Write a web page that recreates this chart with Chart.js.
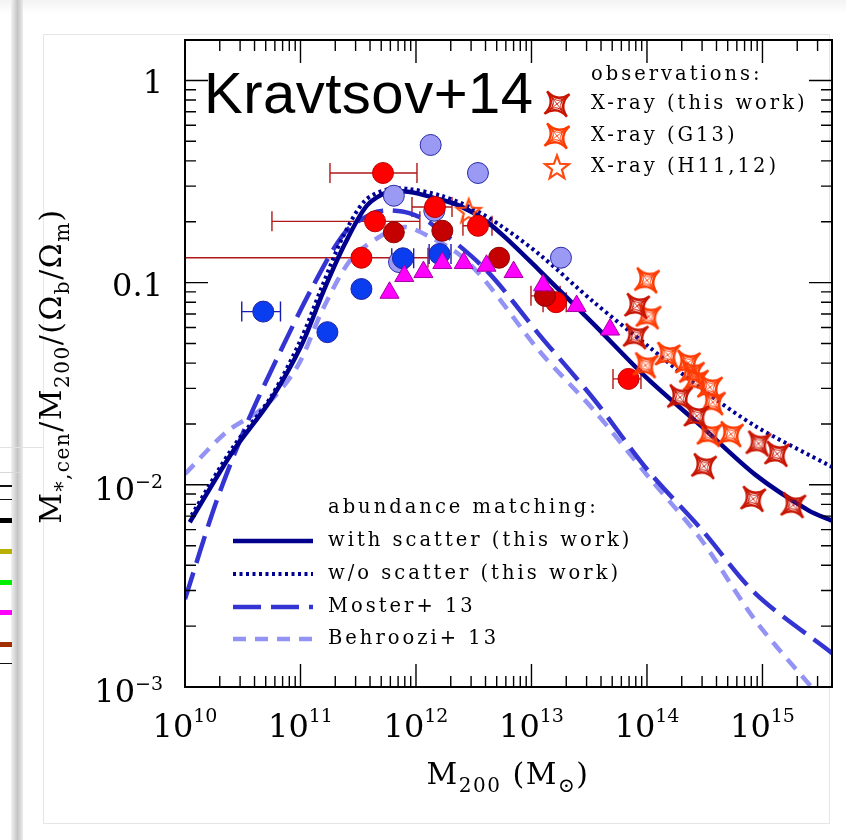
<!DOCTYPE html>
<html>
<head>
<meta charset="utf-8">
<script src="https://cdn.jsdelivr.net/npm/chart.js@4.4.1/dist/chart.umd.min.js"></script>
<style>
  body { margin: 0; background: #fff; }
  #wrap { position: relative; width: 846px; height: 840px; overflow: hidden; background: #fff; }
  #wrap canvas { position: absolute; left: 0; top: 0; }
  .deco { position: absolute; }
</style>
</head>
<body>
<div id="wrap">
  <!-- bits of the slide around the figure -->
  <div class="deco" style="left:0;top:0;width:846px;height:14px;background:linear-gradient(#f3f3f3,#fff)"></div>
  <div class="deco" style="left:11px;top:0;width:12px;height:840px;background:linear-gradient(to right,#f2f2f2,#c4c4c4 55%,#ececec)"></div>
  <div class="deco" style="left:43px;top:34px;width:785px;height:788px;border:1px solid #e6e6e6;"></div>
  <div class="deco" style="left:0;top:447px;width:44px;height:1px;background:#e2e2e2"></div>
  <div class="deco" style="left:0;top:472px;width:20px;height:1px;background:#d8d8d8"></div>
  <div class="deco" style="left:0;top:485px;width:12px;height:2px;background:#111"></div>
  <div class="deco" style="left:0;top:499px;width:12px;height:1px;background:#111"></div>
  <div class="deco" style="left:0;top:518px;width:12px;height:5px;background:#000"></div>
  <div class="deco" style="left:0;top:549px;width:12px;height:5px;background:#b8b000"></div>
  <div class="deco" style="left:0;top:580px;width:12px;height:5px;background:#00ee00"></div>
  <div class="deco" style="left:0;top:610px;width:12px;height:5px;background:#ff00ff"></div>
  <div class="deco" style="left:0;top:642px;width:12px;height:5px;background:#a03000"></div>
  <div class="deco" style="left:0;top:663px;width:12px;height:1px;background:#111"></div>
  <canvas id="chart" width="846" height="840"></canvas>
</div>
<script>
// axis ticks
const massTicks = [1e10, 1e11, 1e12, 1e13, 1e14, 1e15];
const massTickPowers = ["10", "11", "12", "13", "14", "15"];
const fracTicks = [1, 0.1, 0.01, 0.001];
const fracTickBase = ["1", "0.1", "10", "10"];
const fracTickPowers = ["", "", "−2", "−3"];

// abundance matching curves (M200 in Msun, stellar fraction)
const scatterM = [1.1e10, 2.57e10, 5.5e10, 1.02e11, 1.58e11, 2.43e11, 3.77e11, 5.75e11, 8.9e11, 1.38e12, 2.34e12, 4.07e12, 6.76e12, 1.17e13, 3.47e13, 1e14, 2.95e14, 8.7e14, 2.5e15, 4e15];
const scatterF = [0.00653, 0.0145, 0.0262, 0.049, 0.0906, 0.156, 0.241, 0.281, 0.281, 0.264, 0.241, 0.201, 0.156, 0.115, 0.0622, 0.0337, 0.0195, 0.0112, 0.00748, 0.00664];

const noScatterM = [1.14e10, 2.57e10, 5.5e10, 1e11, 1.55e11, 2.34e11, 3.63e11, 5.75e11, 8.9e11, 1.62e12, 2.95e12, 5.37e12, 1.17e13, 3.47e13, 1e14, 2.95e14, 8.7e14, 4e15];
const noScatterF = [0.00708, 0.0152, 0.027, 0.0519, 0.097, 0.1694, 0.255, 0.29, 0.29, 0.27, 0.236, 0.192, 0.138, 0.08, 0.049, 0.0299, 0.0195, 0.01226];

const mosterM = [1e10, 1.86e10, 3.5e10, 6.7e10, 1.28e11, 2.43e11, 4.17e11, 5.75e11, 8.9e11, 1.38e12, 4.07e12, 1.17e13, 3.47e13, 1e14, 2.95e14, 8.7e14, 4e15];
const mosterF = [0.00272, 0.0082, 0.0206, 0.0457, 0.0959, 0.1773, 0.22, 0.2277, 0.22, 0.194, 0.115, 0.0552, 0.0265, 0.01194, 0.00604, 0.0029, 0.00147];

const behrooziM = [1e10, 2.29e10, 4.83e10, 9.3e10, 1.58e11, 2.72e11, 4.68e11, 7.94e11, 1.36e12, 2.34e12, 3.98e12, 1.17e13, 3.47e13, 1e14, 2.95e14, 8.7e14, 2.82e15];
const behrooziF = [0.01132, 0.01828, 0.0242, 0.0381, 0.075, 0.13, 0.1667, 0.1885, 0.1667, 0.1386, 0.102, 0.0459, 0.0234, 0.01118, 0.00535, 0.00213, 0.00096];

// observational points
const redM = [5.18e11, 4.42e11, 3.37e11, 1.46e12, 3.44e12, 1.63e13, 6.92e13];
const redF = [0.3485, 0.201, 0.1328, 0.2366, 0.191, 0.08, 0.0334];
const redLo = [1.8e11, 5.66e10, 1e9, 9.23e11, 2.55e12, 1.26e13, 5.08e13];
const redHi = [1.02e12, 1.08e12, 1.27e12, 2.05e12, 4.55e12, 2.0e13, 8.87e13];

const darkRedM = [6.43e11, 1.69e12, 5.24e12, 1.31e13];
const darkRedF = [0.1773, 0.1806, 0.1328, 0.086];
const darkRedLo = [null, null, null, 9.9e12];
const darkRedHi = [null, null, null, 1.77e13];

const blueM = [4.76e10, 1.71e11, 3.37e11, 7.71e11, 1.6e12];
const blueF = [0.0719, 0.0569, 0.093, 0.132, 0.1386];
const blueLo = [3.1e10, null, null, 6.17e11, 1.3e12];
const blueHi = [6.71e10, null, null, 9.55e11, 2.01e12];

const lightBlueM = [1.34e12, 3.44e12, 6.43e11, 1.44e12, 7.13e11, 1.8e13];
const lightBlueF = [0.4795, 0.3485, 0.269, 0.2267, 0.1264, 0.1328];

const magentaM = [5.9e11, 7.92e11, 1.16e12, 1.69e12, 2.59e12, 4.08e12, 7.0e12, 1.26e13, 2.46e13, 4.79e13];
const magentaF = [0.0891, 0.1078, 0.1128, 0.125, 0.125, 0.1212, 0.1128, 0.097, 0.0766, 0.0586];

const xrayM = [8.22e13, 8.0e13, 1.93e14, 2.69e14, 3.12e14, 9.23e14, 1.34e15, 8.32e14, 1.85e15];
const xrayF = [0.0766, 0.0543, 0.0271, 0.0219, 0.01236, 0.016, 0.01423, 0.00852, 0.00793];

const g13M = [1.0e14, 1.03e14, 1.51e14, 9.7e13, 2.26e14, 2.45e14, 2.65e14, 3.51e14, 3.72e14, 3.48e14, 5.33e14];
const g13F = [0.1026, 0.0681, 0.0439, 0.039, 0.0401, 0.036, 0.0329, 0.0304, 0.0256, 0.0178, 0.0178];

const h11M = [2.86e12];
const h11F = [0.2266];

const serif = '"DejaVu Serif", serif';
const pts = (xs, ys) => xs.map((x, i) => ({ x: x, y: ys[i] }));

// 4-point star with inner outline (X-ray symbols)
const makeCrossStar = color => {
  const s = 36, c = document.createElement("canvas");
  c.width = s; c.height = s;
  const g = c.getContext("2d");
  g.translate(s / 2, s / 2);
  g.rotate(Math.PI / 4 + 0.12);
  g.strokeStyle = color;
  g.lineJoin = "miter";
  const shape = R => {
    const k = 0.06 * R;
    g.beginPath();
    g.moveTo(R, 0);
    g.quadraticCurveTo(k, k, 0, R);
    g.quadraticCurveTo(-k, k, -R, 0);
    g.quadraticCurveTo(-k, -k, 0, -R);
    g.quadraticCurveTo(k, -k, R, 0);
    g.closePath();
    g.stroke();
  };
  g.lineWidth = 2.4; shape(16);
  g.lineWidth = 1; shape(9.5);
  g.lineWidth = 0.8;
  g.beginPath(); g.moveTo(-9, 0); g.lineTo(9, 0); g.moveTo(0, -9); g.lineTo(0, 9); g.stroke();
  return c;
};

const makeOpenStar = color => {
  const s = 32, c = document.createElement("canvas");
  c.width = s; c.height = s;
  const g = c.getContext("2d");
  g.translate(s / 2, s / 2 + 1);
  g.strokeStyle = color;
  g.lineWidth = 2.2;
  g.beginPath();
  for (let i = 0; i < 10; i++) {
    const r = i % 2 ? 5.2 : 12.5;
    const a = -Math.PI / 2 + i * Math.PI / 5;
    i ? g.lineTo(r * Math.cos(a), r * Math.sin(a)) : g.moveTo(r * Math.cos(a), r * Math.sin(a));
  }
  g.closePath();
  g.stroke();
  return c;
};

const xrayStar = makeCrossStar("#c81400");
const g13Star = makeCrossStar("#ff3a00");
const h11Star = makeOpenStar("#ff4a10");

// rich text: parts = [text, size, dy]
const drawParts = (ctx, parts, x, y, align) => {
  let w = 0;
  parts.forEach(p => {
    ctx.font = `${p[1]}px ${serif}`;
    w += ctx.measureText(p[0]).width;
  });
  let cx = align === "center" ? x - w / 2 : align === "right" ? x - w : x;
  parts.forEach(p => {
    ctx.font = `${p[1]}px ${serif}`;
    ctx.fillText(p[0], cx, y + p[2]);
    cx += ctx.measureText(p[0]).width;
  });
};

const errorBars = {
  id: "errorBars",
  beforeDatasetsDraw(chart) {
    const { ctx, scales: { x, y } } = chart;
    const sets = [
      [redM, redF, redLo, redHi, "#b01818"],
      [darkRedM, darkRedF, darkRedLo, darkRedHi, "#b01818"],
      [blueM, blueF, blueLo, blueHi, "#1a1ab4"],
    ];
    ctx.save();
    ctx.beginPath();
    ctx.rect(chart.chartArea.left, chart.chartArea.top, chart.chartArea.width, chart.chartArea.height);
    ctx.clip();
    ctx.lineWidth = 1.4;
    sets.forEach(([ms, fs, lo, hi, col]) => {
      ctx.strokeStyle = col;
      ms.forEach((m, i) => {
        if (lo[i] == null) return;
        const py = y.getPixelForValue(fs[i]);
        const x0 = x.getPixelForValue(lo[i]);
        const x1 = x.getPixelForValue(hi[i]);
        ctx.beginPath();
        ctx.moveTo(x0, py); ctx.lineTo(x1, py);
        ctx.moveTo(x0, py - 10); ctx.lineTo(x0, py + 10);
        ctx.moveTo(x1, py - 10); ctx.lineTo(x1, py + 10);
        ctx.stroke();
      });
    });
    ctx.restore();
  },
};

const frameAndText = {
  id: "frameAndText",
  afterDraw(chart) {
    const { ctx, chartArea: a, scales: { x, y } } = chart;
    ctx.save();
    ctx.strokeStyle = "#000";
    ctx.fillStyle = "#000";

    // inward ticks on all four sides
    ctx.lineWidth = 1.4;
    ctx.beginPath();
    for (let d = 1e10; d <= 1e15; d *= 10) {
      for (let k = 1; k <= 9; k++) {
        const v = d * k;
        if (v > x.max) break;
        const px = x.getPixelForValue(v);
        const len = k === 1 ? 23 : 11;
        ctx.moveTo(px, a.bottom); ctx.lineTo(px, a.bottom - len);
        ctx.moveTo(px, a.top); ctx.lineTo(px, a.top + len);
      }
    }
    for (let d = 1e-3; d <= 1; d *= 10) {
      for (let k = 1; k <= 9; k++) {
        const v = d * k;
        if (v > y.max) break;
        const py = y.getPixelForValue(v);
        const len = k === 1 ? 23 : 11;
        ctx.moveTo(a.left, py); ctx.lineTo(a.left + len, py);
        ctx.moveTo(a.right, py); ctx.lineTo(a.right - len, py);
      }
    }
    ctx.stroke();
    ctx.lineWidth = 2;
    ctx.strokeRect(a.left, a.top, a.width, a.height);

    // tick labels
    ctx.textBaseline = "alphabetic";
    massTicks.forEach((v, i) => {
      drawParts(ctx, [["10", 32, 0], [massTickPowers[i], 19, -15]], x.getPixelForValue(v), a.bottom + 50, "center");
    });
    fracTicks.forEach((v, i) => {
      const py = y.getPixelForValue(v);
      if (fracTickPowers[i]) {
        drawParts(ctx, [[fracTickBase[i], 32, 0], [fracTickPowers[i], 19, -12]], 163, py + 15, "right");
      } else {
        drawParts(ctx, [[fracTickBase[i], 32, 0]], 163, py + 13, "right");
      }
    });

    // axis titles
    ctx.letterSpacing = "1.5px";
    drawParts(ctx, [["M", 30, 0], ["200", 20, 8], [" (M", 30, 0], ["⊙", 20, 8], [")", 30, 0]], 508, 784, "center");
    ctx.save();
    ctx.translate(61, 366);
    ctx.rotate(-Math.PI / 2);
    drawParts(ctx, [["M", 30, 0], ["*,cen", 20, 8], ["/M", 30, 0], ["200", 20, 8], ["/(Ω", 30, 0], ["b", 20, 8], ["/Ω", 30, 0], ["m", 20, 8], [")", 30, 0]], 0, 0, "center");
    ctx.restore();

    // big label
    ctx.letterSpacing = "0.5px";
    ctx.font = '58px "Liberation Sans", sans-serif';
    ctx.fillText("Kravtsov+14", 204, 113);

    // observations legend
    ctx.letterSpacing = "3px";
    ctx.textBaseline = "middle";
    ctx.font = `19.5px ${serif}`;
    ctx.fillText("observations:", 591, 75);
    const obs = [[xrayStar, "X-ray (this work)", 104], [g13Star, "X-ray (G13)", 136], [h11Star, "X-ray (H11,12)", 167]];
    obs.forEach(([img, txt, yy]) => {
      ctx.drawImage(img, 557 - img.width / 2, yy - img.height / 2);
      ctx.fillText(txt, 591, yy);
    });

    // abundance matching legend
    ctx.fillText("abundance matching:", 328, 508);
    const am = [
      ["with scatter (this work)", 541, "#00008c", 4.5, []],
      ["w/o scatter (this work)", 574, "#000096", 4, [3, 3.5]],
      ["Moster+ 13", 607, "#3434d2", 4.5, [28, 10]],
      ["Behroozi+ 13", 639, "#9393f5", 4.5, [13, 9]],
    ];
    am.forEach(([txt, yy, col, lw, dash]) => {
      ctx.strokeStyle = col;
      ctx.lineWidth = lw;
      ctx.setLineDash(dash);
      ctx.beginPath();
      ctx.moveTo(233, yy); ctx.lineTo(313, yy);
      ctx.stroke();
      ctx.fillText(txt, 328, yy);
    });
    ctx.setLineDash([]);
    ctx.restore();
  },
};

const lineSet = (data, color, width, dash, order) => ({
  type: "line",
  data: data,
  borderColor: color,
  borderWidth: width,
  borderDash: dash,
  pointRadius: 0,
  fill: false,
  tension: 0.3,
  order: order,
});

const circleSet = (data, fill, edge, order) => ({
  data: data,
  pointStyle: "circle",
  pointRadius: 10.5,
  backgroundColor: fill,
  borderColor: edge,
  borderWidth: 1,
  order: order,
});

new Chart(document.getElementById("chart"), {
  type: "scatter",
  data: {
    datasets: [
      { data: pts(xrayM, xrayF), pointStyle: xrayStar, pointRadius: 12, order: 1 },
      { data: pts(g13M, g13F), pointStyle: g13Star, pointRadius: 12, order: 2 },
      { data: pts(h11M, h11F), pointStyle: h11Star, pointRadius: 12, order: 7 },
      {
        data: pts(magentaM, magentaF),
        pointStyle: "triangle",
        pointRadius: 11,
        backgroundColor: "#ff00ff",
        borderColor: "#a400a4",
        borderWidth: 1,
        order: 3,
      },
      circleSet(pts(darkRedM, darkRedF), "#c40000", "#8c0000", 4),
      circleSet(pts(redM, redF), "#ff0000", "#c00000", 5),
      circleSet(pts(blueM, blueF), "#0a3cf0", "#2222a0", 8),
      circleSet(pts(lightBlueM, lightBlueF), "#9a9af5", "#2a2aa8", 9),
      lineSet(pts(behrooziM, behrooziF), "#9393f5", 4.5, [13, 9], 13),
      lineSet(pts(mosterM, mosterF), "#3434d2", 4.5, [28, 10], 12),
      lineSet(pts(noScatterM, noScatterF), "#000096", 4, [3, 3.5], 11),
      lineSet(pts(scatterM, scatterF), "#00008c", 4.5, [], 10),
    ],
  },
  options: {
    responsive: false,
    animation: false,
    devicePixelRatio: 1,
    layout: { padding: { left: 185, right: 14, top: 40, bottom: 153 } },
    scales: {
      x: { type: "logarithmic", min: 1e10, max: 4e15, display: false },
      y: { type: "logarithmic", min: 1e-3, max: 1.585, display: false },
    },
    plugins: {
      legend: { display: false },
      tooltip: { enabled: false },
    },
  },
  plugins: [errorBars, frameAndText],
});
</script>
</body>
</html>
